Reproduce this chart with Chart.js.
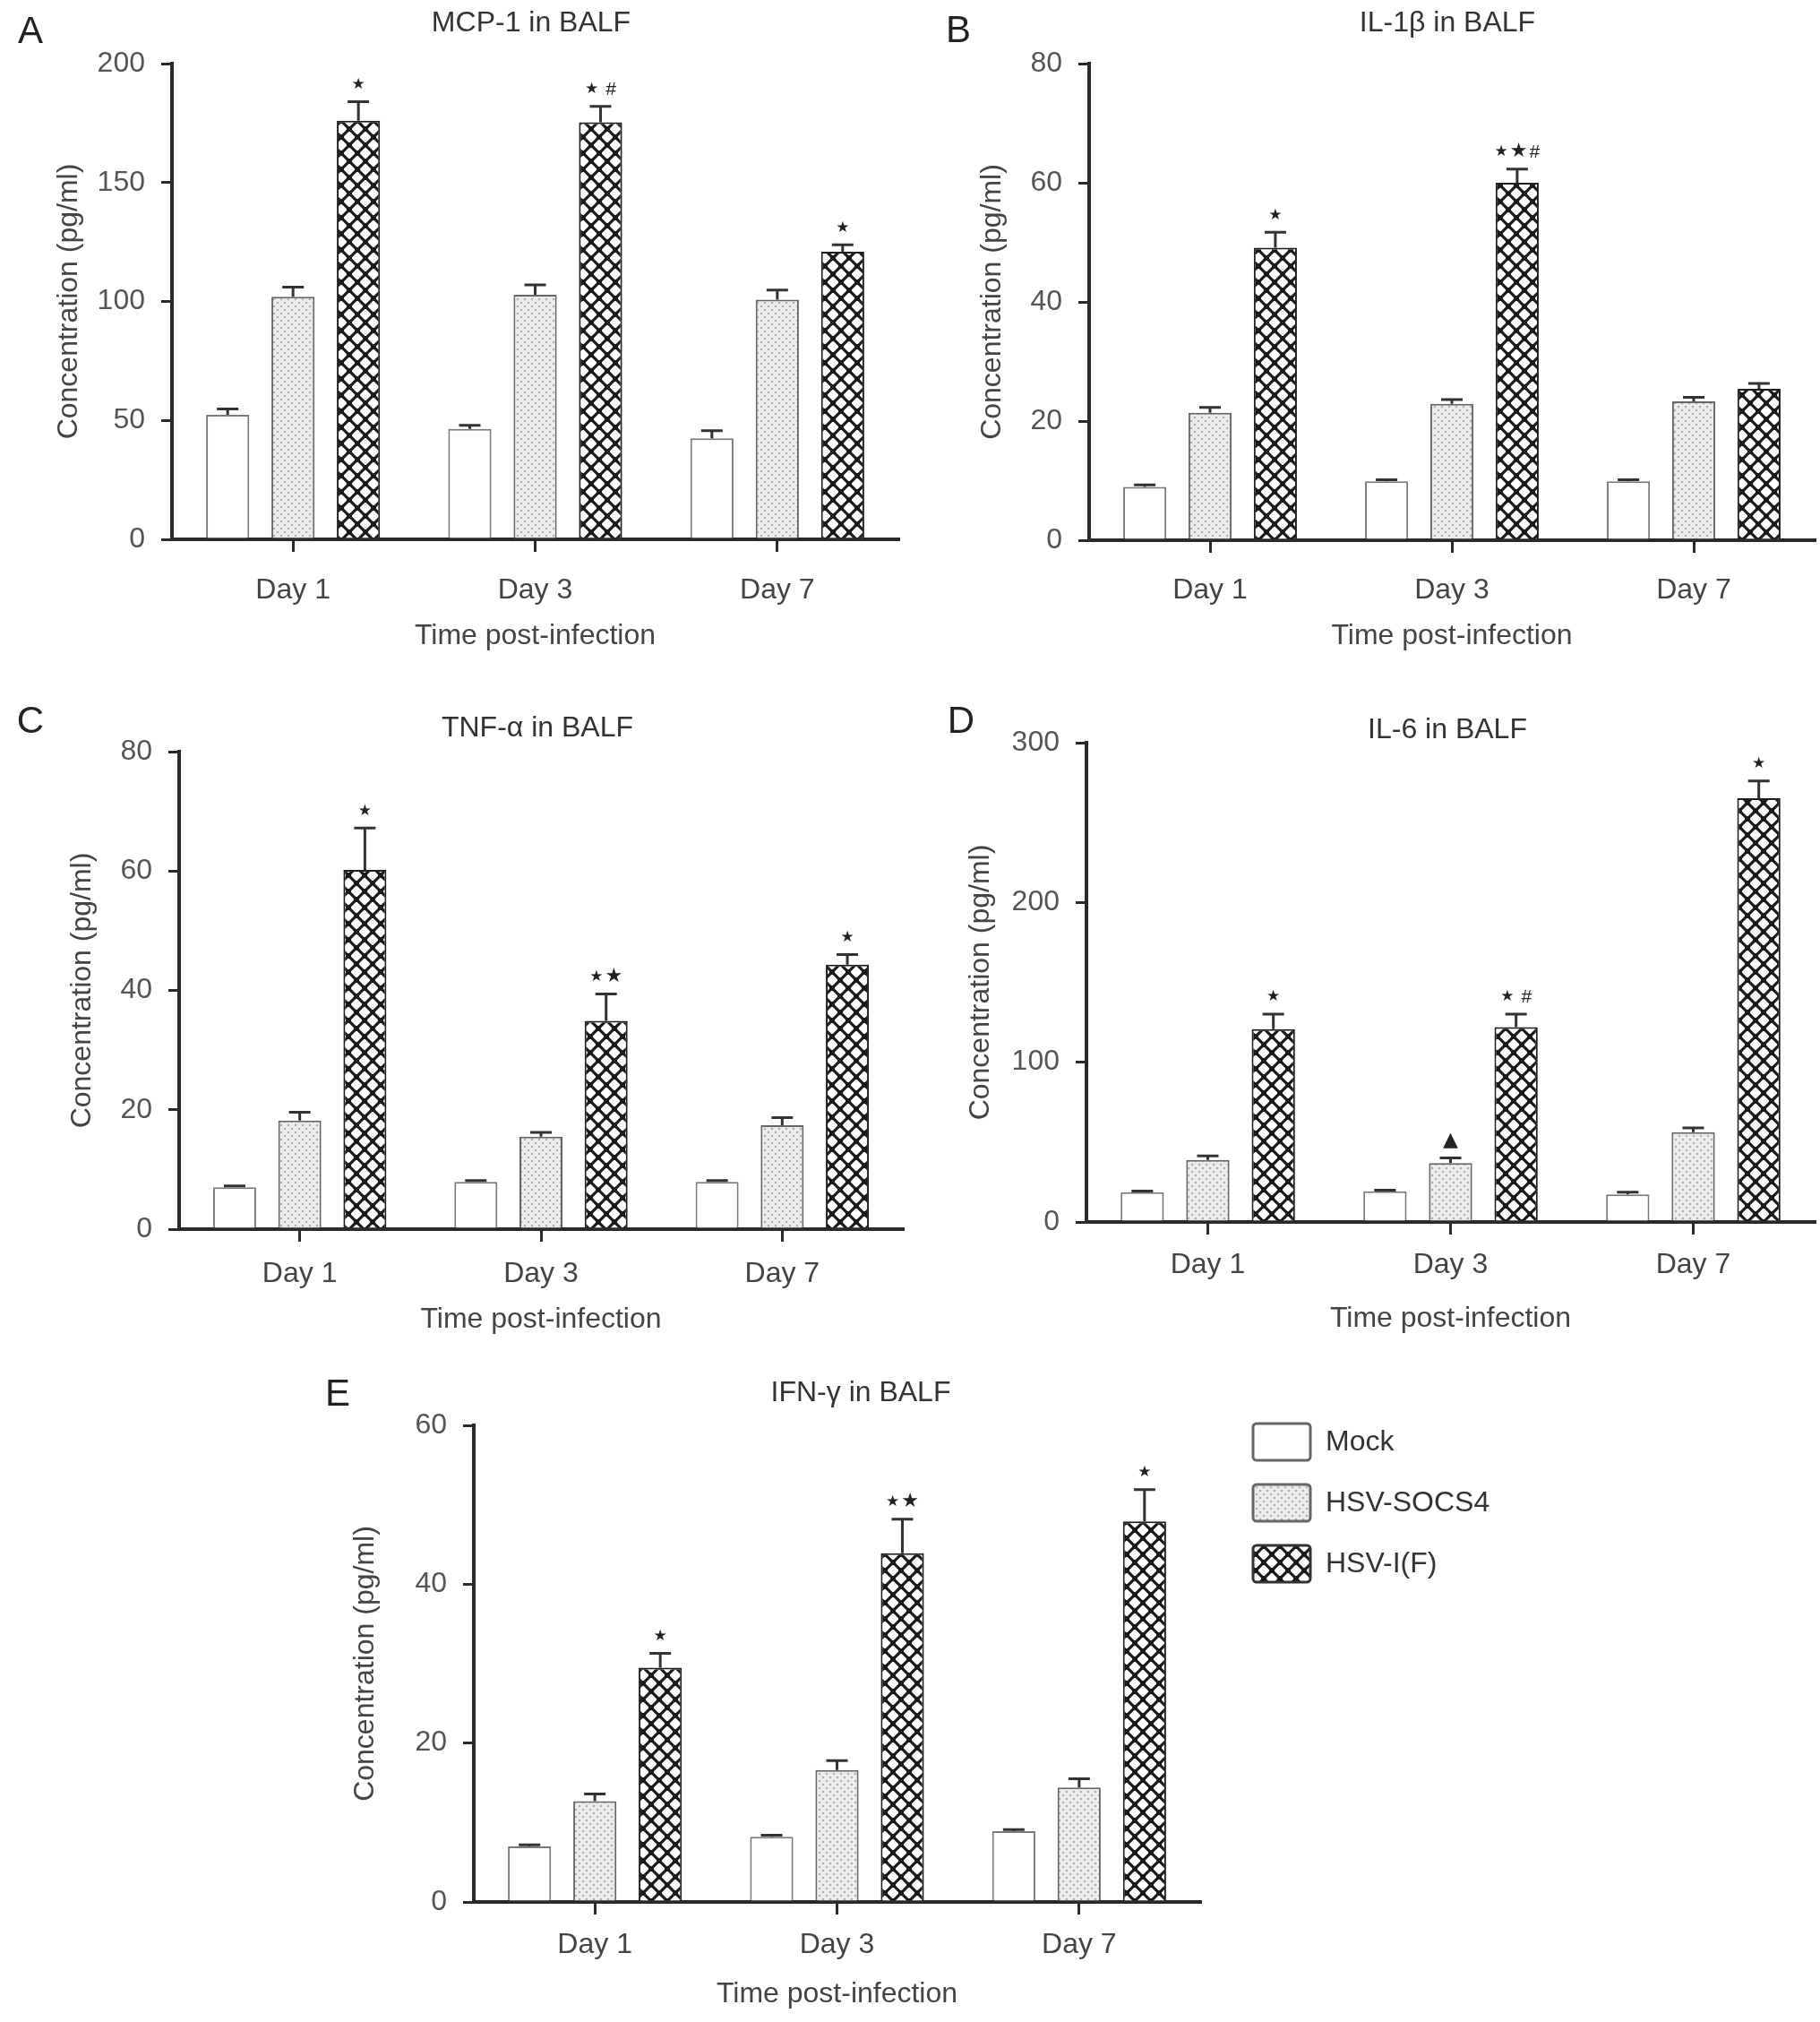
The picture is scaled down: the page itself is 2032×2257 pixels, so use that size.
<!DOCTYPE html>
<html lang="en">
<head>
    <meta charset="UTF-8">
    <title>Cytokines in BALF</title>
    <script src="https://cdn.jsdelivr.net/npm/chart.js"></script>
    <style>
        body { margin: 0; background: #ffffff; }
        #page { position: relative; width: 2032px; height: 2257px; }
        #page canvas { position: absolute; }
    </style>
</head>
<body>
<div id="page">
    <canvas id="chartA"></canvas>
    <canvas id="chartB"></canvas>
    <canvas id="chartC"></canvas>
    <canvas id="chartD"></canvas>
    <canvas id="chartE"></canvas>
</div>
<script>
// ---- data (means, upper SEM, significance marks) ----
const categories = ['Day 1', 'Day 3', 'Day 7'];
const groups = ['Mock', 'HSV-SOCS4', 'HSV-I(F)'];

// MCP-1
const mcpTicks = [0, 50, 100, 150, 200];
const mcpMock = [52.4, 46.4, 42.5];
const mcpMockSem = [2.4, 1.5, 3.2];
const mcpSocs = [102, 102.8, 100.8];
const mcpSocsSem = [4, 4.2, 4];
const mcpHsv = [176, 175.3, 120.9];
const mcpHsvSem = [8, 6.7, 2.9];
const mcpHsvMarks = ['*', '* #', '*'];

// IL-1beta
const il1bTicks = [0, 20, 40, 60, 80];
const il1bMock = [8.95, 9.9, 9.9];
const il1bMockSem = [0.35, 0.25, 0.25];
const il1bSocs = [21.4, 22.9, 23.3];
const il1bSocsSem = [0.9, 0.7, 0.7];
const il1bHsv = [49.1, 60, 25.4];
const il1bHsvSem = [2.6, 2.3, 0.9];
const il1bHsvMarks = ['*', '*\u2605#', ''];

// TNF-alpha
const tnfTicks = [0, 20, 40, 60, 80];
const tnfMock = [7.0, 7.9, 7.9];
const tnfMockSem = [0.25, 0.25, 0.25];
const tnfSocs = [18.2, 15.5, 17.4];
const tnfSocsSem = [1.4, 0.7, 1.3];
const tnfHsv = [60.2, 34.9, 44.3];
const tnfHsvSem = [7, 4.5, 1.7];
const tnfHsvMarks = ['*', '*\u2605', '*'];

// IL-6
const il6Ticks = [0, 100, 200, 300];
const il6Mock = [18.6, 19.2, 17.3];
const il6MockSem = [0.8, 0.7, 1.3];
const il6Socs = [38.8, 36.9, 56.2];
const il6SocsSem = [2.6, 3.2, 2.7];
const il6SocsMarks = ['', '\u25B2', ''];
const il6Hsv = [120.7, 122, 265.3];
const il6HsvSem = [9.4, 8.1, 10.7];
const il6HsvMarks = ['*', '* #', '*'];

// IFN-gamma
const ifnTicks = [0, 20, 40, 60];
const ifnMock = [7.0, 8.2, 8.9];
const ifnMockSem = [0.2, 0.2, 0.2];
const ifnSocs = [12.7, 16.6, 14.4];
const ifnSocsSem = [0.9, 1.2, 1.1];
const ifnHsv = [29.5, 43.9, 47.9];
const ifnHsvSem = [1.8, 4.3, 4.0];
const ifnHsvMarks = ['*', '*\u2605', '*'];

const noMarks = ['', '', ''];

// ---- styling ----
const FONT = "'Liberation Sans', Arial, sans-serif";
const TEXT = '#444';
const AXIS = '#2a2a2a';

function makePattern(size, draw) {
    const tile = document.createElement('canvas');
    tile.width = size;
    tile.height = size;
    draw(tile.getContext('2d'), size);
    return tile.getContext('2d').createPattern(tile, 'repeat');
}

const dotFill = makePattern(8, (c, s) => {
    c.fillStyle = '#ececec';
    c.fillRect(0, 0, s, s);
    c.fillStyle = '#b0b0b0';
    c.beginPath(); c.arc(2, 2, 1.3, 0, Math.PI * 2); c.fill();
    c.beginPath(); c.arc(6, 6, 1.3, 0, Math.PI * 2); c.fill();
});

// diamond lattice with round white holes
const hatchFill = makePattern(18, (c, s) => {
    c.fillStyle = '#ffffff';
    c.fillRect(0, 0, s, s);
    c.strokeStyle = '#1a1a1a';
    c.lineWidth = 3.2;
    for (const k of [-s, 0, s]) {
        c.beginPath(); c.moveTo(k, 0); c.lineTo(k + s, s); c.stroke();
        c.beginPath(); c.moveTo(k + s, 0); c.lineTo(k, s); c.stroke();
    }
    c.fillStyle = '#1a1a1a';
    for (const [px, py] of [[0, 0], [s, 0], [0, s], [s, s], [s / 2, s / 2]]) {
        c.beginPath(); c.arc(px, py, 3, 0, Math.PI * 2); c.fill();
    }
});

const fills = ['#ffffff', dotFill, hatchFill];
const borders = ['#7a7a7a', '#666666', '#1e1e1e'];

// significance marks: '*' small star, '★' large star
const markFonts = {
    '*': "17px 'DejaVu Sans'",
    '\u2605': "22px 'DejaVu Sans'",
    '#': "21px " + FONT,
    '\u25B2': "22px 'DejaVu Sans'",
    ' ': "14px " + FONT
};

function drawMark(ctx, text, cx, cy) {
    const parts = [...text].map(ch => ({
        glyph: ch === '*' ? '\u2605' : ch,
        font: markFonts[ch] || markFonts['#']
    }));
    let total = 0;
    parts.forEach(p => {
        ctx.font = p.font;
        p.w = ctx.measureText(p.glyph).width;
        total += p.w;
    });
    total += 2 * (parts.length - 1);
    let x = cx - total / 2;
    ctx.fillStyle = '#222';
    ctx.textAlign = 'left';
    ctx.textBaseline = 'middle';
    parts.forEach(p => {
        ctx.font = p.font;
        ctx.fillText(p.glyph, x, cy);
        x += p.w + 2;
    });
}

const errorBars = {
    id: 'errorBars',
    afterDatasetsDraw(chart) {
        const ctx = chart.ctx;
        const y = chart.scales.y;
        ctx.save();
        chart.data.datasets.forEach((ds, d) => {
            chart.getDatasetMeta(d).data.forEach((bar, i) => {
                const top = y.getPixelForValue(ds.data[i] + ds.sem[i]);
                ctx.strokeStyle = '#333';
                ctx.lineWidth = 3;
                ctx.beginPath();
                ctx.moveTo(bar.x, bar.y);
                ctx.lineTo(bar.x, top);
                ctx.moveTo(bar.x - 12, top);
                ctx.lineTo(bar.x + 12, top);
                ctx.stroke();
                if (ds.marks[i]) drawMark(ctx, ds.marks[i], bar.x, top - 19);
            });
        });
        ctx.restore();
    }
};

const panelText = {
    id: 'panelText',
    afterDraw(chart, args, opts) {
        const ctx = chart.ctx;
        ctx.save();
        ctx.textBaseline = 'middle';
        ctx.textAlign = 'center';
        ctx.fillStyle = '#222';
        ctx.font = '42px ' + FONT;
        ctx.fillText(opts.letter, opts.lx, opts.ly);
        ctx.fillStyle = '#333';
        ctx.font = '32px ' + FONT;
        ctx.fillText(opts.title, opts.tx, opts.ty);
        ctx.restore();
    }
};

const boxLegend = {
    id: 'boxLegend',
    afterDraw(chart, args, opts) {
        if (!opts.show) return;
        const ctx = chart.ctx;
        ctx.save();
        chart.data.datasets.forEach((ds, d) => {
            const top = opts.y + d * opts.step;
            ctx.beginPath();
            ctx.roundRect(opts.x, top, opts.w, opts.h, 4);
            ctx.fillStyle = ds.backgroundColor;
            ctx.fill();
            ctx.lineWidth = 3;
            ctx.strokeStyle = d === 2 ? '#333' : '#666';
            ctx.stroke();
            ctx.fillStyle = '#333';
            ctx.font = '32px ' + FONT;
            ctx.textAlign = 'left';
            ctx.textBaseline = 'middle';
            ctx.fillText(ds.label, opts.x + opts.w + 17, top + opts.h / 2 + 1);
        });
        ctx.restore();
    }
};

function makePanel(p) {
    const canvas = document.getElementById(p.id);
    canvas.width = p.w;
    canvas.height = p.h;
    canvas.style.left = p.x + 'px';
    canvas.style.top = p.y + 'px';

    const font = { family: FONT, size: 32, lineHeight: 1 };

    return new Chart(canvas, {
        type: 'bar',
        data: {
            labels: categories,
            datasets: groups.map((g, d) => ({
                label: g,
                data: p.values[d],
                sem: p.sems[d],
                marks: p.marks[d],
                backgroundColor: fills[d],
                borderColor: borders[d],
                borderWidth: 2,
                categoryPercentage: 0.81,
                barPercentage: 0.66
            }))
        },
        options: {
            responsive: false,
            animation: false,
            devicePixelRatio: 1,
            layout: { padding: { left: 0, top: p.padTop, right: p.padRight, bottom: 5 } },
            plugins: {
                legend: { display: false },
                tooltip: { enabled: false },
                panelText: { letter: p.letter, lx: p.lx, ly: p.ly, title: p.title, tx: p.tx, ty: p.ty },
                boxLegend: p.legend || { show: false }
            },
            scales: {
                x: {
                    grid: { offset: false, drawOnChartArea: false, tickLength: 14, lineWidth: 3, color: AXIS },
                    border: { color: AXIS, width: 4 },
                    ticks: { font: font, color: TEXT, padding: p.xLabelPad },
                    title: {
                        display: true, text: 'Time post-infection', font: font, color: TEXT,
                        padding: { top: 0, bottom: p.xTitlePad }
                    },
                    afterFit: s => { s.height = 125; }
                },
                y: {
                    min: 0,
                    max: p.ticks[p.ticks.length - 1],
                    afterBuildTicks: s => { s.ticks = p.ticks.map(v => ({ value: v })); },
                    grid: { drawOnChartArea: false, tickLength: 12, lineWidth: 3, color: AXIS },
                    border: { color: AXIS, width: 4 },
                    ticks: { font: font, color: '#555', padding: 18 },
                    title: {
                        display: true, text: 'Concentration (pg/ml)', font: font, color: TEXT,
                        padding: { top: p.yTitlePad, bottom: 0 }
                    },
                    afterFit: s => { s.width = 180; }
                }
            }
        },
        plugins: [errorBars, panelText, boxLegend]
    });
}

makePanel({
    id: 'chartA', x: 12, y: 0, w: 1001, h: 732, padTop: 71, padRight: 10,
    letter: 'A', lx: 22, ly: 36, title: 'MCP-1 in BALF', tx: 581, ty: 26,
    yTitlePad: 49, xLabelPad: 27, xTitlePad: 1, ticks: mcpTicks,
    values: [mcpMock, mcpSocs, mcpHsv],
    sems: [mcpMockSem, mcpSocsSem, mcpHsvSem],
    marks: [noMarks, noMarks, mcpHsvMarks]
});

makePanel({
    id: 'chartB', x: 1036, y: 0, w: 996, h: 733, padTop: 71, padRight: 6,
    letter: 'B', lx: 34, ly: 35, title: 'IL-1\u03B2 in BALF', tx: 580, ty: 26,
    yTitlePad: 56, xLabelPad: 26, xTitlePad: 2, ticks: il1bTicks,
    values: [il1bMock, il1bSocs, il1bHsv],
    sems: [il1bMockSem, il1bSocsSem, il1bHsvSem],
    marks: [noMarks, noMarks, il1bHsvMarks]
});

makePanel({
    id: 'chartC', x: 20, y: 770, w: 998, h: 732, padTop: 69, padRight: 10,
    letter: 'C', lx: 14, ly: 36, title: 'TNF-\u03B1 in BALF', tx: 580, ty: 43,
    yTitlePad: 56, xLabelPad: 20, xTitlePad: 8, ticks: tnfTicks,
    values: [tnfMock, tnfSocs, tnfHsv],
    sems: [tnfMockSem, tnfSocsSem, tnfHsvSem],
    marks: [noMarks, noMarks, tnfHsvMarks]
});

makePanel({
    id: 'chartD', x: 1033, y: 770, w: 999, h: 724, padTop: 59, padRight: 6,
    letter: 'D', lx: 40, ly: 36, title: 'IL-6 in BALF', tx: 583, ty: 45,
    yTitlePad: 46, xLabelPad: 18, xTitlePad: 1, ticks: il6Ticks,
    values: [il6Mock, il6Socs, il6Hsv],
    sems: [il6MockSem, il6SocsSem, il6HsvSem],
    marks: [noMarks, il6SocsMarks, il6HsvMarks]
});

makePanel({
    id: 'chartE', x: 349, y: 1510, w: 1371, h: 743, padTop: 81, padRight: 380,
    letter: 'E', lx: 28, ly: 47, title: 'IFN-\u03B3 in BALF', tx: 612, ty: 45,
    yTitlePad: 43, xLabelPad: 18, xTitlePad: 6, ticks: ifnTicks,
    values: [ifnMock, ifnSocs, ifnHsv],
    sems: [ifnMockSem, ifnSocsSem, ifnHsvSem],
    marks: [noMarks, noMarks, ifnHsvMarks],
    legend: { show: true, x: 1050, y: 79, w: 64, h: 41, step: 68 }
});
</script>
</body>
</html>
